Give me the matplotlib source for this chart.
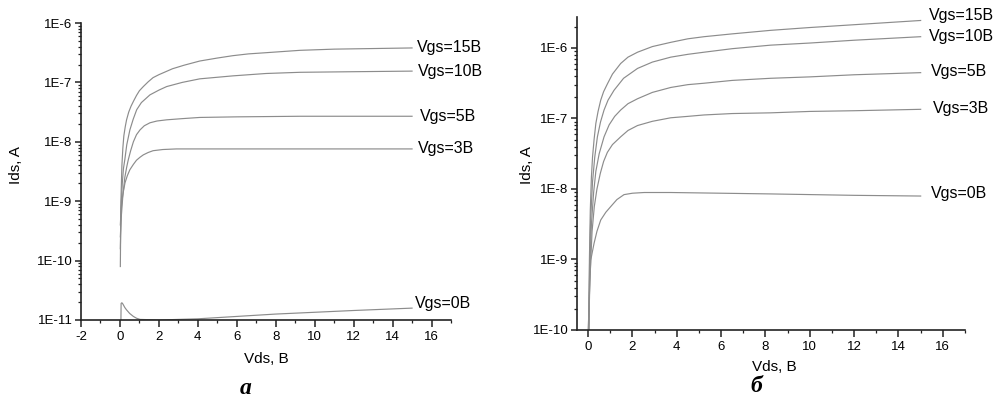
import numpy as np
import matplotlib
matplotlib.use("Agg")
import matplotlib.pyplot as plt
from matplotlib.ticker import MultipleLocator, LogLocator, FuncFormatter, NullFormatter

plt.rcParams['font.family'] = ['Liberation Sans', 'DejaVu Sans']
plt.rcParams['axes.unicode_minus'] = False

# values, currents given as log10(Ids / A)

# ---- panel "a" ----
a_vds_15 = [0.02, 0.05, 0.1, 0.15, 0.2, 0.27, 0.34, 0.45, 0.57, 0.69, 0.85, 1.0, 1.2, 1.45,
            1.7, 2.0, 2.35, 2.7, 3.3, 4.1, 5.0, 5.8, 6.6, 7.5, 9.25, 11, 13, 15]
a_log_15 = [-10.1, -9.0, -8.4, -8.1, -7.9, -7.75, -7.63, -7.5, -7.4, -7.32, -7.22, -7.14,
            -7.07, -6.99, -6.92, -6.87, -6.82, -6.77, -6.71, -6.64, -6.59, -6.55, -6.52,
            -6.50, -6.46, -6.44, -6.43, -6.42]
a_vds_10 = [0.02, 0.06, 0.12, 0.18, 0.25, 0.35, 0.51, 0.68, 0.86, 1.1, 1.54, 2.0, 2.4, 3.2,
            4.1, 5.8, 7.5, 9.25, 12, 15]
a_log_10 = [-9.8, -9.1, -8.7, -8.45, -8.3, -8.05, -7.80, -7.62, -7.46, -7.34, -7.21, -7.13,
            -7.07, -7.0, -6.94, -6.89, -6.85, -6.83, -6.82, -6.81]
a_vds_5 = [0.02, 0.06, 0.15, 0.25, 0.35, 0.43, 0.55, 0.69, 0.85, 1.03, 1.25, 1.54, 1.9, 2.4,
           3.2, 4.1, 6, 9.25, 15]
a_log_5 = [-9.6, -9.3, -8.9, -8.6, -8.42, -8.30, -8.15, -8.0, -7.88, -7.80, -7.73, -7.68,
           -7.65, -7.63, -7.61, -7.59, -7.58, -7.57, -7.57]
a_vds_3 = [0.02, 0.05, 0.1, 0.18, 0.26, 0.38, 0.51, 0.69, 0.85, 1.03, 1.2, 1.45, 1.7, 2.2,
           2.9, 15]
a_log_3 = [-9.4, -9.2, -9.0, -8.83, -8.69, -8.57, -8.47, -8.38, -8.31, -8.26, -8.22, -8.18,
           -8.15, -8.13, -8.12, -8.12]
a_vds_0 = [0.05, 0.06, 0.1, 0.15, 0.25, 0.34, 0.5, 0.69, 0.85, 1.03, 2, 4, 6, 8, 10, 12, 15]
a_log_0 = [-11.0, -10.72, -10.71, -10.73, -10.79, -10.83, -10.89, -10.94, -10.97, -10.99,
           -11.0, -10.98, -10.94, -10.90, -10.87, -10.84, -10.80]

# ---- panel "б" ----
b_vds_15 = [0.03, 0.06, 0.1, 0.15, 0.2, 0.27, 0.35, 0.45, 0.57, 0.7, 0.87, 1.1, 1.47, 1.8,
            2.23, 2.9, 3.73, 4.5, 5.23, 6.5, 8.23, 10, 12, 15]
b_log_15 = [-10.0, -9.0, -8.3, -7.83, -7.55, -7.3, -7.07, -6.9, -6.74, -6.62, -6.51, -6.37,
            -6.22, -6.13, -6.06, -5.98, -5.92, -5.87, -5.84, -5.80, -5.75, -5.71, -5.67, -5.61]
b_vds_10 = [0.03, 0.07, 0.12, 0.2, 0.3, 0.42, 0.56, 0.72, 0.9, 1.17, 1.6, 2.23, 2.9, 3.73,
            4.5, 5.23, 6.5, 8.23, 10, 12, 15]
b_log_10 = [-10.0, -9.0, -8.4, -7.9, -7.55, -7.26, -7.05, -6.88, -6.74, -6.60, -6.43, -6.29,
            -6.20, -6.13, -6.09, -6.06, -6.01, -5.96, -5.93, -5.89, -5.84]
b_vds_5 = [0.03, 0.07, 0.15, 0.25, 0.35, 0.5, 0.72, 0.95, 1.2, 1.47, 1.8, 2.23, 2.9, 3.73,
           4.5, 5.23, 6.5, 8.23, 10, 12, 15]
b_log_5 = [-10.0, -9.2, -8.5, -8.05, -7.75, -7.5, -7.26, -7.09, -6.97, -6.88, -6.79, -6.72,
           -6.63, -6.56, -6.52, -6.50, -6.46, -6.43, -6.41, -6.38, -6.35]
b_vds_3 = [0.03, 0.08, 0.18, 0.28, 0.4, 0.55, 0.7, 0.87, 1.1, 1.47, 1.8, 2.23, 2.9, 3.73,
           4.5, 5.23, 6.5, 8.23, 10, 12, 15]
b_log_3 = [-10.0, -9.3, -8.6, -8.25, -8.0, -7.78, -7.61, -7.48, -7.37, -7.26, -7.17, -7.10,
           -7.04, -6.99, -6.97, -6.95, -6.93, -6.92, -6.90, -6.89, -6.87]
b_vds_0 = [0.0, 0.03, 0.06, 0.12, 0.2, 0.27, 0.4, 0.57, 0.8, 1.02, 1.3, 1.62, 2.0, 2.53,
           3.73, 6, 8.23, 12, 15]
b_log_0 = [-10.0, -9.8, -9.5, -9.01, -8.88, -8.77, -8.6, -8.44, -8.33, -8.25, -8.15, -8.08,
           -8.06, -8.05, -8.05, -8.06, -8.07, -8.09, -8.10]

curve_labels = ['Vgs=15B', 'Vgs=10B', 'Vgs=5B', 'Vgs=3B', 'Vgs=0B']
a_decades = [-11, -10, -9, -8, -7, -6]
b_decades = [-10, -9, -8, -7, -6]

W, H = 999, 398
fig = plt.figure(figsize=(W / 100, H / 100), dpi=100)

# axes boxes in pixels
ax1 = fig.add_axes([81 / W, 1 - 320 / H, (451 - 81) / W, (320 - 23) / H])
ax2 = fig.add_axes([577 / W, 1 - 330 / H, (965 - 577) / W, (330 - 17) / H])

line_color = '#8c8c8c'
spine_color = '#222222'

a_series = [(a_vds_15, a_log_15), (a_vds_10, a_log_10), (a_vds_5, a_log_5),
            (a_vds_3, a_log_3), (a_vds_0, a_log_0)]
b_series = [(b_vds_15, b_log_15), (b_vds_10, b_log_10), (b_vds_5, b_log_5),
            (b_vds_3, b_log_3), (b_vds_0, b_log_0)]

for x, lg in a_series:
    ax1.plot(x, 10.0 ** np.array(lg), color=line_color, lw=0.85)
for x, lg in b_series:
    ax2.plot(x, 10.0 ** np.array(lg), color=line_color, lw=0.85)

# curve labels just right of the line ends
a_lab_x = [15.25, 15.3, 15.4, 15.3, 15.17]
a_lab_dy = [0.0, 0.0, 0.0, 0.0, 0.08]
for (x, lg), lab, lx, dy in zip(a_series, curve_labels, a_lab_x, a_lab_dy):
    ax1.text(lx, 10.0 ** (lg[-1] + dy), lab, fontsize=11.5, va='center', ha='left',
             clip_on=False)

b_lab_x = [15.37, 15.37, 15.47, 15.55, 15.47]
b_lab_dy = [0.07, 0.0, 0.02, 0.01, 0.03]
for (x, lg), lab, lx, dy in zip(b_series, curve_labels, b_lab_x, b_lab_dy):
    ax2.text(lx, 10.0 ** (lg[-1] + dy), lab, fontsize=11.5, va='center', ha='left',
             clip_on=False)

fmt = FuncFormatter(lambda v, pos: "1E%d" % int(round(np.log10(v))))

for ax, xlim, ylim, decs in [(ax1, (-2, 17), (1e-11, 1e-6), a_decades),
                             (ax2, (-0.5, 17), (1e-10, 2.75e-6), b_decades)]:
    ax.set_yscale('log')
    ax.set_xlim(*xlim)
    ax.set_ylim(*ylim)
    ax.spines['top'].set_visible(False)
    ax.spines['right'].set_visible(False)
    for s in ['left', 'bottom']:
        ax.spines[s].set_color(spine_color)
        ax.spines[s].set_linewidth(1.2)
    ax.xaxis.set_major_locator(MultipleLocator(2))
    ax.xaxis.set_minor_locator(MultipleLocator(1))
    ax.set_yticks([10.0 ** k for k in decs])
    ax.yaxis.set_minor_locator(LogLocator(base=10, subs=np.arange(2, 10), numticks=20))
    ax.yaxis.set_major_formatter(fmt)
    ax.yaxis.set_minor_formatter(NullFormatter())
    ax.set_ylim(*ylim)
    ax.tick_params(which='major', direction='out', length=4, width=1.1, color=spine_color,
                   labelsize=9.5, pad=2)
    ax.tick_params(which='minor', direction='out', length=2.5, width=0.9, color=spine_color)
    ax.tick_params(axis='x', which='major', length=5, pad=3)

# axis titles
fig.text(16 / W, 1 - 165 / H, 'Ids, A', rotation=90, ha='center', va='center', fontsize=11)
fig.text(527 / W, 1 - 165 / H, 'Ids, A', rotation=90, ha='center', va='center', fontsize=11)
fig.text(266 / W, 1 - 359 / H, 'Vds, B', ha='center', va='center', fontsize=11)
fig.text(774 / W, 1 - 367 / H, 'Vds, B', ha='center', va='center', fontsize=11)

# panel letters
fig.text(246 / W, 1 - 388 / H, 'a', ha='center', va='center', fontsize=17,
         family='Liberation Serif', style='italic', weight='bold')
fig.text(756 / W, 1 - 387 / H, 'б', ha='center', va='center', fontsize=17,
         family='Liberation Serif', style='italic', weight='bold')

fig.savefig('out.png', dpi=100)
